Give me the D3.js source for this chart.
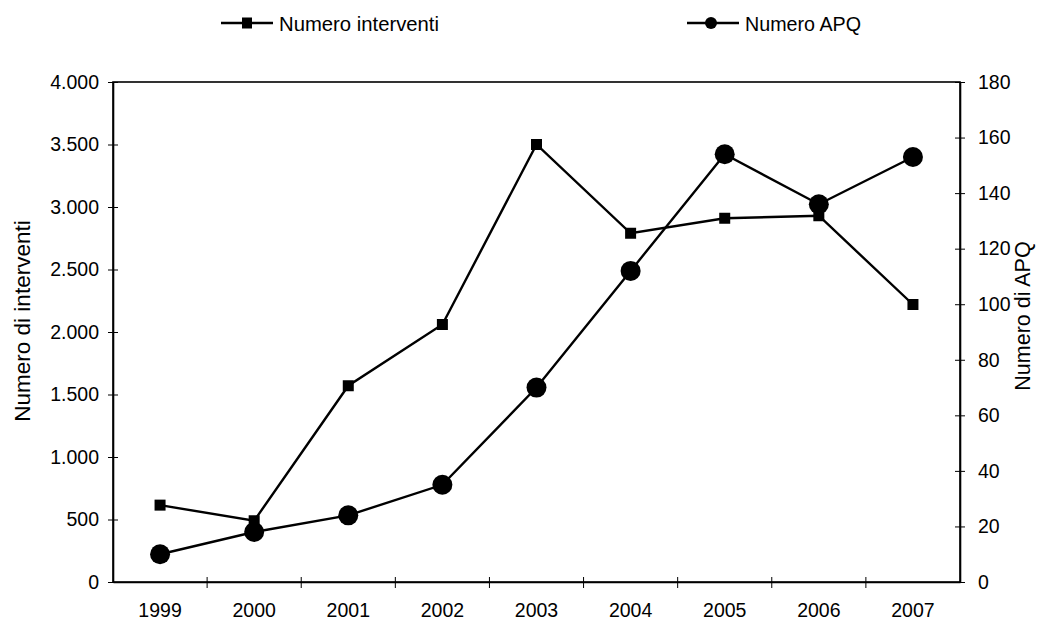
<!DOCTYPE html>
<html>
<head>
<meta charset="utf-8">
<script src="https://cdn.jsdelivr.net/npm/d3@7"></script>
<style>
  html, body { margin: 0; padding: 0; background: #fff; }
  svg { display: block; font-family: "Liberation Sans", Arial, sans-serif; }
</style>
</head>
<body>
<svg id="chart" width="1041" height="621"></svg>
<script>
// Years on the category axis
const years = ["1999", "2000", "2001", "2002", "2003", "2004", "2005", "2006", "2007"];
// Number of interventions (left axis)
const interventi = [615, 490, 1570, 2060, 3500, 2790, 2910, 2930, 2220];
// Number of APQ agreements (right axis)
const apq = [10, 18, 24, 35, 70, 112, 154, 136, 153];
// Axis tick values
const leftTicks = [0, 500, 1000, 1500, 2000, 2500, 3000, 3500, 4000];
const rightTicks = [0, 20, 40, 60, 80, 100, 120, 140, 160, 180];

const FS = 19.5;      // tick labels
const svg = d3.select("#chart");
const m = { left: 113, right: 960, top: 82, bottom: 582 };

const x = d3.scaleBand().domain(years).range([m.left, m.right]);
const yL = d3.scaleLinear().domain([0, 4000]).range([m.bottom, m.top]);
const yR = d3.scaleLinear().domain([0, 180]).range([m.bottom, m.top]);
const cx = d => x(d) + x.bandwidth() / 2;

const it = d3.formatLocale({ decimal: ",", thousands: ".", grouping: [3], currency: ["€", ""] });
const fmt = it.format(",d");

// Plot frame
svg.append("rect")
  .attr("x", m.left).attr("y", m.top)
  .attr("width", m.right - m.left).attr("height", m.bottom - m.top)
  .attr("fill", "none").attr("stroke", "#000").attr("stroke-width", 1.6);

// Left axis
const gL = svg.append("g").attr("transform", `translate(${m.left},0)`)
  .call(d3.axisLeft(yL).tickValues(leftTicks).tickFormat(fmt).tickSizeInner(5).tickSizeOuter(0).tickPadding(9));
gL.selectAll(".tick line").attr("x2", -5).attr("x1", 5);

// Right axis
const gR = svg.append("g").attr("transform", `translate(${m.right},0)`)
  .call(d3.axisRight(yR).tickValues(rightTicks).tickSizeInner(5).tickSizeOuter(0).tickPadding(13));
gR.selectAll(".tick line").attr("x1", -5).attr("x2", 5);

// Bottom axis: ticks on category boundaries
const gB = svg.append("g").attr("transform", `translate(0,${m.bottom})`)
  .call(d3.axisBottom(x).tickSize(0).tickPadding(21));
const bounds = years.slice(1).map(d => x(d));
gB.selectAll(".bound").data(bounds).enter().append("line")
  .attr("class", "bound")
  .attr("x1", d => d).attr("x2", d => d)
  .attr("y1", -5).attr("y2", 6)
  .attr("stroke", "#000").attr("stroke-width", 1);

[gL, gR, gB].forEach(g => {
  g.attr("font-size", FS);
  g.select(".domain").attr("stroke", "#000").attr("stroke-width", 1.6);
  g.selectAll("text").attr("font-size", FS).attr("fill", "#000")
    .attr("font-family", "'Liberation Sans', Arial, sans-serif");
  g.selectAll(".tick line").attr("stroke", "#000");
});

// Axis titles
svg.append("text")
  .attr("transform", "translate(22,321) rotate(-90)")
  .attr("text-anchor", "middle").attr("dominant-baseline", "central")
  .attr("font-size", 22.5).text("Numero di interventi");
svg.append("text")
  .attr("transform", "translate(1023,316) rotate(-90)")
  .attr("text-anchor", "middle").attr("dominant-baseline", "central")
  .attr("font-size", 21.5).text("Numero di APQ");

// Interventions line with square markers
const lineL = d3.line().x((d, i) => cx(years[i])).y(d => yL(d));
svg.append("path").datum(interventi).attr("d", lineL)
  .attr("fill", "none").attr("stroke", "#000").attr("stroke-width", 2.4);
svg.selectAll(".sq").data(interventi).enter().append("rect")
  .attr("class", "sq")
  .attr("x", (d, i) => cx(years[i]) - 5.5).attr("y", d => yL(d) - 5.5)
  .attr("width", 11).attr("height", 11).attr("fill", "#000");

// APQ line with circle markers
const lineR = d3.line().x((d, i) => cx(years[i])).y(d => yR(d));
svg.append("path").datum(apq).attr("d", lineR)
  .attr("fill", "none").attr("stroke", "#000").attr("stroke-width", 2.4);
svg.selectAll(".ci").data(apq).enter().append("circle")
  .attr("class", "ci")
  .attr("cx", (d, i) => cx(years[i])).attr("cy", d => yR(d))
  .attr("r", 10).attr("fill", "#000");

// Legend
const legY = 23;
const leg1 = svg.append("g");
leg1.append("line").attr("x1", 221).attr("x2", 273).attr("y1", legY).attr("y2", legY)
  .attr("stroke", "#000").attr("stroke-width", 2.4);
leg1.append("rect").attr("x", 242).attr("y", legY - 5.5).attr("width", 10).attr("height", 11).attr("fill", "#000");
leg1.append("text").attr("x", 279).attr("y", legY).attr("dominant-baseline", "central")
  .attr("font-size", 20.5).attr("textLength", 160).attr("lengthAdjust", "spacingAndGlyphs")
  .text("Numero interventi");

const leg2 = svg.append("g");
leg2.append("line").attr("x1", 687).attr("x2", 739).attr("y1", legY).attr("y2", legY)
  .attr("stroke", "#000").attr("stroke-width", 2.4);
leg2.append("circle").attr("cx", 711).attr("cy", legY).attr("r", 6).attr("fill", "#000");
leg2.append("text").attr("x", 745).attr("y", legY).attr("dominant-baseline", "central")
  .attr("font-size", 20.5).attr("textLength", 116).attr("lengthAdjust", "spacingAndGlyphs")
  .text("Numero APQ");
</script>
</body>
</html>
